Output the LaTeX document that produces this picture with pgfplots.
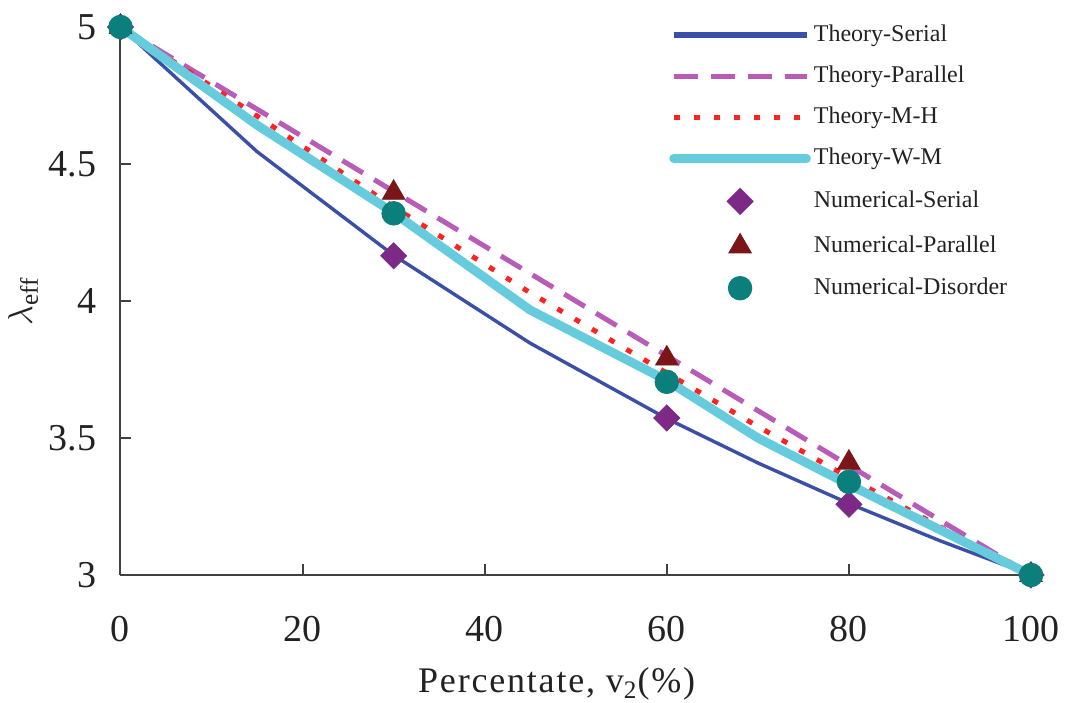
\documentclass[border=0pt]{standalone}
\usepackage{fontspec}
\setmainfont{Liberation Serif}
\usepackage{pgfplots}
\pgfplotsset{compat=1.18}
\definecolor{cSer}{HTML}{3A4FA8}
\definecolor{cPar}{HTML}{B85CB8}
\definecolor{cMH}{HTML}{FF2222}
\definecolor{cWM}{HTML}{66CCDD}
\definecolor{mSer}{HTML}{7D2A87}
\definecolor{mPar}{HTML}{7A1518}
\definecolor{mDis}{HTML}{0B7F7B}
\definecolor{axcol}{HTML}{404040}
\definecolor{txt}{HTML}{222222}
\pgfplotsset{
  lineleg/.style={legend image code/.code={\draw[##1, #1] (0pt,0pt) -- (66.5pt,0pt);}},
  markleg/.style={legend image code/.code={\draw[##1] plot coordinates {(33.25pt,0pt)};}},
}
\begin{document}
\begin{tikzpicture}
\begin{axis}[
  at={(0,0)}, anchor=south west,
  scale only axis, width=455.25pt, height=274pt,
  xmin=0, xmax=100, ymin=3, ymax=5,
  axis lines=left,
  axis line style={-, draw=axcol, line width=1pt},
  xtick={0,20,40,60,80,100},
  ytick={3,3.5,4,4.5,5},
  tick style={draw=axcol, line width=1pt},
  major tick length=5.5pt,
  tick align=inside,
  /pgf/number format/assume math mode=true,
  xticklabel style={font=\fontsize{19}{19}\selectfont, text=txt, yshift=-17pt},
  yticklabel style={font=\fontsize{19}{19}\selectfont, text=txt, xshift=-8.7pt},
  clip=false,
  xlabel={\addfontfeature{LetterSpace=5}Percentate, v\textsubscript{2}(\%)},
  xlabel style={at={(axis description cs:0.479,-0.2153)}, anchor=base, font=\fontsize{18}{18}\selectfont, text=txt},
  ylabel={$\lambda_{\mathrm{eff}}$},
  ylabel style={at={(axis description cs:-0.107,0.5)}, anchor=center, font=\fontsize{18}{18}\selectfont, text=txt},
  legend cell align=left,
  legend style={at={(axis description cs:0.6023,1.0055)}, anchor=north west, draw=none, fill=none, inner sep=0pt,
    font=\fontsize{12}{12}\selectfont, text=txt, row sep=9.5pt,
    nodes={inner ysep=0pt, inner xsep=1.5pt, text height=8.5pt, text depth=2.5pt}},
]
\addplot[cSer, line width=1.7pt, lineleg={line width=3pt}]
  coordinates {(0,5)(15,4.545)(30,4.167)(45,3.846)(60,3.571)(70,3.409)(80,3.261)(90,3.125)(100,3)};
\addlegendentry{Theory-Serial}
\addplot[cPar, line width=2.5pt, dash pattern=on 12pt off 6.5pt, lineleg={line width=2.4pt}]
  coordinates {(0,5)(100,3)};
\addlegendentry{Theory-Parallel}
\addplot[cMH, line width=2.5pt, dash pattern=on 3pt off 7pt, lineleg={line width=2.8pt}]
  coordinates {(0,5)(15,4.675)(30,4.343)(45,4.03)(60,3.737)(70,3.542)(80,3.356)(90,3.176)(100,3)};
\addlegendentry{Theory-M-H}
\addplot[cWM, line width=4.5pt, line cap=round, line join=round, lineleg={line width=4.3pt}]
  coordinates {(0,5)(15,4.642)(30,4.322)(45,3.967)(60,3.71)(70,3.50)(80,3.33)(90,3.165)(100,3)};
\addlegendentry{Theory-W-M}
\addplot[only marks, mark=square*, mark size=4.6pt, mark options={rotate=45, fill=mSer, draw=mSer}, markleg]
  coordinates {(0,5)(30,4.165)(60,3.573)(80,3.258)(100,3)};
\addlegendentry{Numerical-Serial}
\addplot[only marks, mark=triangle*, mark size=6.5pt, mark options={fill=mPar, draw=mPar}, markleg]
  coordinates {(0,5)(30,4.395)(60,3.79)(80,3.41)(100,3)};
\addlegendentry{Numerical-Parallel}
\addplot[only marks, mark=*, mark size=5.9pt, mark options={fill=mDis, draw=mDis}, markleg]
  coordinates {(0,5)(30,4.32)(60,3.705)(80,3.34)(100,3)};
\addlegendentry{Numerical-Disorder}
\end{axis}
\pgfresetboundingbox
\path (-60.25pt,-63.5pt) rectangle (474.75pt,287.5pt);
\end{tikzpicture}
\end{document}
